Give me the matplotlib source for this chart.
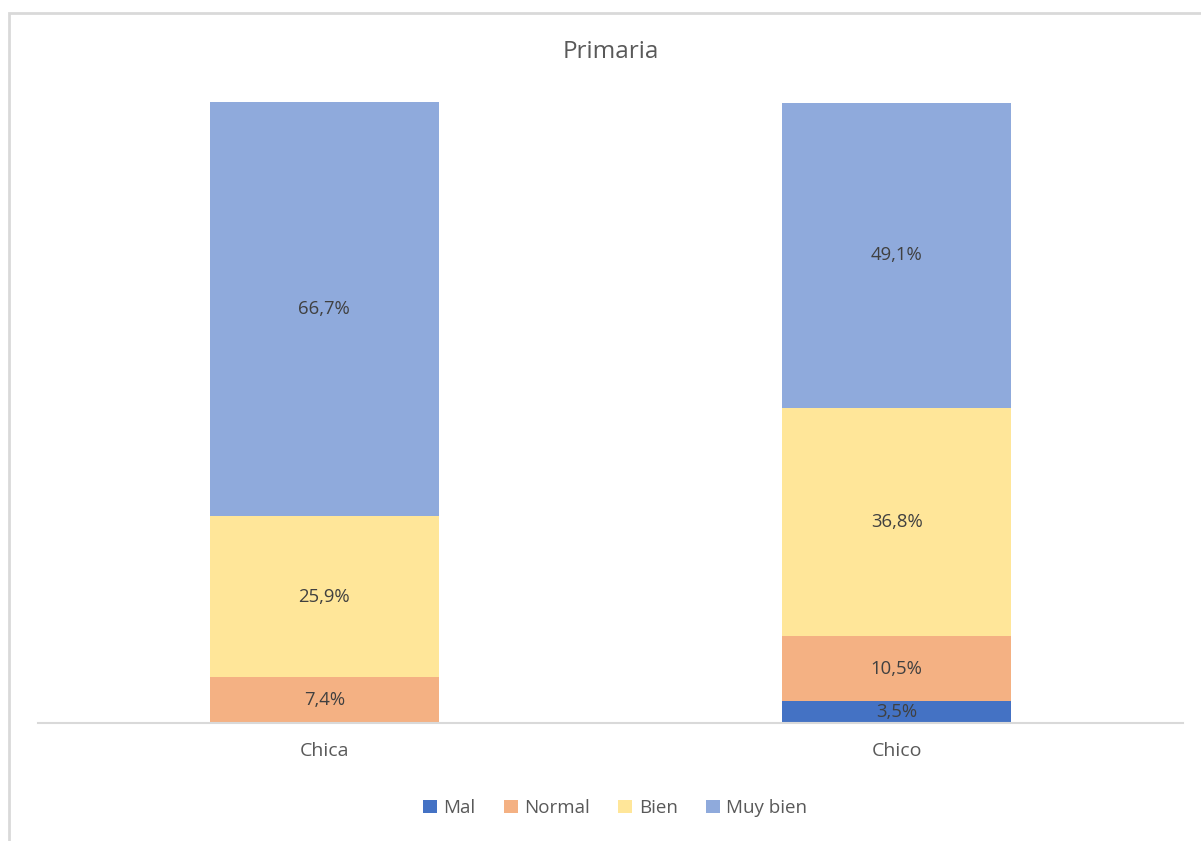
import matplotlib
matplotlib.use('Agg')
import matplotlib.pyplot as plt
from matplotlib.patches import Rectangle
import numpy as np

categories = ['Chica', 'Chico']
series = ['Mal', 'Normal', 'Bien', 'Muy bien']
values = {
    'Mal': [0.0, 3.5],
    'Normal': [7.4, 10.5],
    'Bien': [25.9, 36.8],
    'Muy bien': [66.7, 49.1],
}
colors = {'Mal': '#4472C4', 'Normal': '#F4B183', 'Bien': '#FFE699', 'Muy bien': '#8FAADC'}

plt.rcParams['font.family'] = ['Open Sans', 'DejaVu Sans']

W, H = 1201, 841
fig = plt.figure(figsize=(W / 100, H / 100), dpi=100)
fig.patch.set_facecolor('white')

# chart border (cropped on right/bottom like the source screenshot)
fig.patches.append(Rectangle((9 / W, -0.1), 1.2, (H - 13) / H + 0.1,
                             transform=fig.transFigure, facecolor='none',
                             edgecolor='#D9D9D9', linewidth=2))

ax = fig.add_axes([38 / W, (H - 723) / H, (1183 - 38) / W, (723 - 102) / H])
x = np.arange(len(categories))
bottom = np.zeros(len(categories))
for s in series:
    v = np.array(values[s])
    ax.bar(x, v, width=0.4, bottom=bottom, color=colors[s], label=s, edgecolor='none')
    for xi, vi, bi in zip(x, v, bottom):
        if vi > 0:
            ax.text(xi, bi + vi / 2, f'{vi:.1f}%'.replace('.', ','), ha='center', va='center',
                    fontsize=13.3, color='#404040')
    bottom += v

ax.set_xlim(-0.5, 1.5)
ax.set_ylim(0, 100)
ax.set_yticks([])
ax.set_xticks(x)
ax.set_xticklabels(categories, fontsize=14, color='#595959')
ax.tick_params(axis='x', length=0, pad=14)
for sp in ['top', 'right', 'left']:
    ax.spines[sp].set_visible(False)
ax.spines['bottom'].set_color('#D9D9D9')
ax.spines['bottom'].set_linewidth(1.5)

fig.text(611 / W, 1 - 52 / H, 'Primaria', ha='center', va='center', fontsize=17.5, color='#595959')

leg = fig.legend(loc='center', bbox_to_anchor=(615 / W, 1 - 808 / H), ncol=4, frameon=False,
                 fontsize=13.5, handlelength=0.75, handleheight=0.75, handletextpad=0.35,
                 columnspacing=1.5)
for t in leg.get_texts():
    t.set_color('#595959')

fig.savefig('out.png', dpi=100)
